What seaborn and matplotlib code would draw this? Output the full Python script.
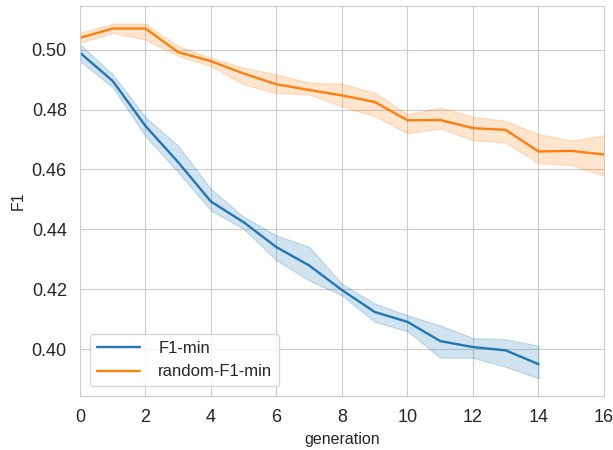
import numpy as np
import pandas as pd
import matplotlib
matplotlib.use("Agg")
import matplotlib.pyplot as plt
import seaborn as sns

gen_f1 = list(range(0, 15))
f1_mid = [0.4989, 0.4895, 0.4745, 0.4624, 0.4493, 0.4424, 0.4341, 0.4280, 0.4198, 0.4125,
          0.4092, 0.4028, 0.4008, 0.3997, 0.3951]
f1_lo = [0.4961, 0.4874, 0.4711, 0.4591, 0.4463, 0.4402, 0.4297, 0.4230, 0.4180, 0.4092,
         0.4061, 0.3973, 0.3972, 0.3942, 0.3904]
f1_hi = [0.5017, 0.4917, 0.4774, 0.4679, 0.4535, 0.4442, 0.4380, 0.4342, 0.4219, 0.4153,
         0.4114, 0.4080, 0.4038, 0.4034, 0.4013]

gen_rnd = list(range(0, 17))
rnd_mid = [0.5039, 0.5070, 0.5070, 0.4991, 0.4961, 0.4920, 0.4884, 0.4865, 0.4847, 0.4825,
           0.4764, 0.4765, 0.4738, 0.4732, 0.4660, 0.4662, 0.4650]
rnd_lo = [0.5023, 0.5055, 0.5033, 0.4978, 0.4945, 0.4884, 0.4854, 0.4851, 0.4810, 0.4778,
          0.4721, 0.4737, 0.4698, 0.4690, 0.4621, 0.4615, 0.4579]
rnd_hi = [0.5056, 0.5086, 0.5086, 0.5011, 0.4972, 0.4939, 0.4917, 0.4889, 0.4886, 0.4856,
          0.4784, 0.4806, 0.4776, 0.4762, 0.4718, 0.4696, 0.4714]

rows = []
for name, gens, lo, mid, hi in [("F1-min", gen_f1, f1_lo, f1_mid, f1_hi),
                                ("random-F1-min", gen_rnd, rnd_lo, rnd_mid, rnd_hi)]:
    for g, a, b, c in zip(gens, lo, mid, hi):
        for v in (a, b, c):
            rows.append({"generation": g, "F1": v, "method": name})
df = pd.DataFrame(rows)

sns.set_style("whitegrid")
plt.rcParams["font.family"] = ["Liberation Sans", "DejaVu Sans"]

fig = plt.figure(figsize=(6.13, 4.5), dpi=100)
ax = fig.add_axes([0.1305, 0.12, 0.8548, 0.8667])
sns.lineplot(data=df, x="generation", y="F1", hue="method", palette="tab10",
             estimator="median", errorbar=("pi", 100), ax=ax, linewidth=1.7)
ax.set_xlim(0, 16)
ax.set_xticks(range(0, 17, 2))
ax.tick_params(axis="both", labelsize=13, colors="#262626", pad=6)
ax.set_xlabel("generation", fontsize=11.5, color="#262626")
ax.set_ylabel("F1", fontsize=11.5, color="#262626")
ax.legend(loc="lower left", fontsize=12, title=None, handlelength=2.6,
          handletextpad=1.1, borderaxespad=0.6)
fig.savefig("out.png", dpi=100)
